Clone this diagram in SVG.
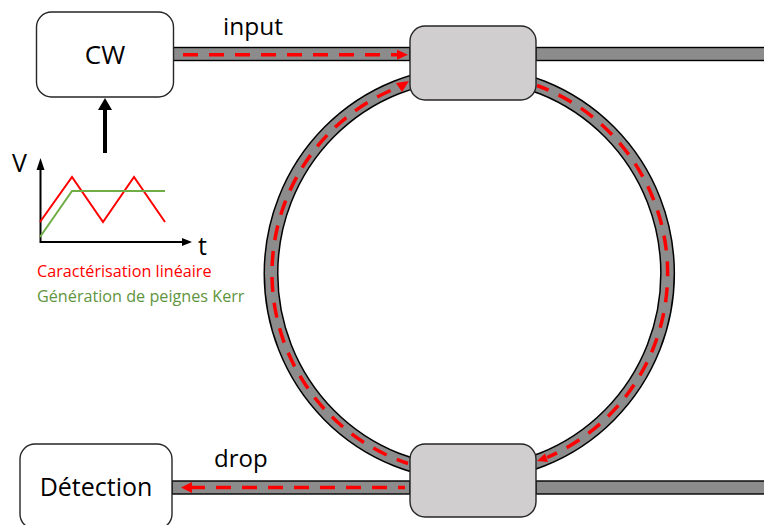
<svg xmlns="http://www.w3.org/2000/svg" width="764" height="525" viewBox="0 0 764 525">
<style>
.wg{fill:#8c8c8c;stroke:#000;stroke-width:1.4}
.ringo{fill:none;stroke:#000;stroke-width:15}
.ringi{fill:none;stroke:#8c8c8c;stroke-width:12}
.light{fill:none;stroke:#f00;stroke-width:3.5;stroke-dasharray:15 11}
.head{fill:#f00}
.box{fill:#fff;stroke:#262626;stroke-width:1.4}
.coupler{fill:#d0cece;stroke:#262626;stroke-width:1.4}
text{font-family:"Open Sans","Noto Sans","Liberation Sans",sans-serif}
.lab{fill:#000}
.small{font-size:16.200px}
</style>
<g id="connectors">
<g id="waveguides">
<ellipse class="ringo" cx="469.300" cy="273.500" rx="198.300" ry="200"/>
<ellipse class="ringi" cx="469.300" cy="273.500" rx="198.300" ry="200"/>
<rect class="wg" x="173" y="47.500" width="237" height="13"/>
<rect class="wg" x="536" y="47.500" width="229" height="13"/>
<rect class="wg" x="172" y="481" width="238" height="13"/>
<rect class="wg" x="536" y="481" width="229" height="13"/>
</g>
<g id="light">
<path class="light" d="M183 54.700H397"/>
<polygon class="head" points="397,49.700 408,54.700 397,59.700"/>
<path class="light" d="M190 487.500H405"/>
<polygon class="head" points="192,482 181,487.500 192,493"/>
<path class="light" d="M408 463.500A198.300 200 0 0 1 399 87" stroke-dashoffset="3"/>
<polygon class="head" points="396,83 409,81 402,92"/>
<path class="light" d="M547 457.500A198.300 200 0 0 0 537 85.500" stroke-dashoffset="4"/>
<polygon class="head" points="545,453.500 537,461 548,462"/>
</g>
<path d="M105 153V108" fill="none" stroke="#000" stroke-width="4"/>
<polygon points="98,110 105,98 112,110" fill="#000"/>
</g>
<g id="cw"><rect class="box" x="36.500" y="12" width="137" height="85" rx="15"/><text class="lab" x="105" y="64" font-size="26" text-anchor="middle">CW</text></g>
<g id="detection"><rect class="box" x="20" y="444" width="152" height="85" rx="15"/><text class="lab" x="96" y="496" font-size="25" text-anchor="middle">Détection</text></g>
<g id="coupler-top"><rect class="coupler" x="410" y="26" width="126" height="74" rx="15"/></g>
<g id="coupler-bottom"><rect class="coupler" x="410" y="444" width="126" height="73" rx="15"/></g>
<text class="lab" x="223" y="35" font-size="24.500">input</text>
<text class="lab" x="214" y="467" font-size="24">drop</text>
<g id="plot">
<path d="M40.500 170V242H184" fill="none" stroke="#000" stroke-width="2"/>
<polygon points="36.500,170 40.500,158 44.500,170" fill="#000"/>
<polygon points="182,238 192,242 182,246" fill="#000"/>
<path d="M40 222 72 177 103 222 134 177 165 222" fill="none" stroke="#f00" stroke-width="2"/>
<path d="M40 237 72 191H165" fill="none" stroke="#70ad47" stroke-width="2"/>
<text class="lab" x="12" y="172" font-size="25">V</text>
<text class="lab" x="198" y="255" font-size="25">t</text>
</g>
<text class="small" x="37" y="277" fill="#f00">Caractérisation linéaire</text>
<text class="small" x="37" y="302" fill="#5f9440">Génération de peignes Kerr</text>
</svg>
